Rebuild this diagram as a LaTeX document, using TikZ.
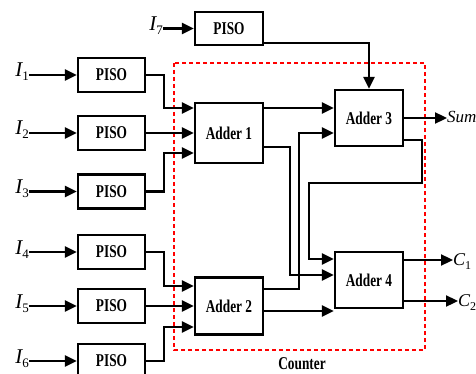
\documentclass[tikz,border=0pt]{standalone}
\usepackage{fontspec}
\usepackage{graphicx}
\setmainfont{Liberation Serif}
\usetikzlibrary{arrows.meta}
\newcommand{\bxt}[1]{\scalebox{0.74}[1]{\fontsize{18}{18}\selectfont\bfseries #1}}
\newcommand{\ilab}[1]{{\fontsize{21}{21}\selectfont\itshape I}\raisebox{-4pt}{\fontsize{13}{13}\selectfont #1}}
\newcommand{\clab}[1]{{\fontsize{18}{18}\selectfont\itshape C}\raisebox{-4pt}{\fontsize{12}{12}\selectfont #1}}
\tikzset{
  blk/.style={draw, line width=2.3pt, minimum width=67pt, minimum height=34pt, inner sep=0pt},
  arr/.style={line width=2.3pt, -{Triangle[length=12pt,width=11pt]}},
  lab/.style={inner sep=0pt, anchor=base east},
  counterbox/.style={draw=red, line width=2.2pt, dash pattern=on 4pt off 3pt}
}
\begin{document}
\begin{tikzpicture}[x=1pt,y=-1pt]
\useasboundingbox (0,0) rectangle (476,374);
\clip (0,0) rectangle (476,374);
% counter frame
\draw[counterbox] (174,63) rectangle (425,350);
\node (cnt) at (302,364) {\bxt{Counter}};
% PISO blocks
\node[blk] (p1) at (111.5,75) {\bxt{PISO}};
\node[blk] (p2) at (111.5,133) {\bxt{PISO}};
\node[blk] (p3) at (111.5,191.5) {\bxt{PISO}};
\node[blk] (p4) at (111.5,252) {\bxt{PISO}};
\node[blk] (p5) at (111.5,306) {\bxt{PISO}};
\node[blk] (p6) at (111.5,361) {\bxt{PISO}};
\node[blk, minimum width=68pt, minimum height=33pt] (p7) at (229,28.5) {\bxt{PISO}};
% adders
\node[blk, minimum width=68pt, minimum height=60pt] (a1) at (229,133) {\bxt{Adder 1}};
\node[blk, minimum width=68pt, minimum height=57pt] (a2) at (229,306) {\bxt{Adder 2}};
\node[blk, minimum width=68pt, minimum height=56pt] (a3) at (369,118) {\bxt{Adder 3}};
\node[blk, minimum width=68pt, minimum height=56pt] (a4) at (369,280) {\bxt{Adder 4}};
% input labels
\node[lab] (l1) at (29,77) {\ilab{1}};
\node[lab] (l2) at (29,135) {\ilab{2}};
\node[lab] (l3) at (29,193.5) {\ilab{3}};
\node[lab] (l4) at (29,254) {\ilab{4}};
\node[lab] (l5) at (29,308) {\ilab{5}};
\node[lab] (l6) at (29,363) {\ilab{6}};
\node[lab] (l7) at (163,30.5) {\ilab{7}};
\foreach \i in {1,...,7}{
  \draw[arr] (p\i.west -| l\i.base east) -- (p\i.west);
}
% PISO -> adders
\draw[arr] (p1.east) -- ++(18,0) |- ([yshift=25pt]a1.west);
\draw[arr] (p2.east) -- (p2.east -| a1.west);
\draw[arr] (p3.east) -- ++(18,0) |- ([yshift=-20pt]a1.west);
\draw[arr] (p4.east) -- ++(18,0) |- ([yshift=20pt]a2.west);
\draw[arr] (p5.east) -- (p5.east -| a2.west);
\draw[arr] (p6.east) -- ++(18,0) |- ([yshift=-21pt]a2.west);
\draw[arr] ([yshift=3pt]p7.south east) -| (a3.north);
% adder interconnect
\draw[arr] ([yshift=25pt]a1.east) -- ([yshift=25pt]a1.east -| a3.west);
\draw[arr] ([yshift=17pt]a2.east) -- ++(35,0) |- ([yshift=-15pt]a3.west);
\draw[arr] ([yshift=-14pt]a1.east) -- ++(26,0) |- ([yshift=5pt]a4.west);
\draw[arr] ([yshift=-22pt]a3.east) -- ++(18,0) -- ++(0,43) -- ++(-113,0) |- ([yshift=21pt]a4.west);
\draw[arr] ([yshift=-5pt]a2.east) -- ([yshift=-5pt]a2.east -| a4.west);
% outputs
\node[inner sep=0pt, anchor=base west] (sum) at (447,123) {\fontsize{17}{17}\selectfont\itshape Sum};
\node[inner sep=0pt, anchor=base west] (c1) at (453,265) {\clab{1}};
\node[inner sep=0pt, anchor=base west] (c2) at (458,306) {\clab{2}};
\coordinate (o1) at ([yshift=20pt]a4.east);
\coordinate (o2) at ([yshift=-21pt]a4.east);
\draw[arr] (a3.east) -- (a3.east -| sum.west);
\draw[arr] (o1) -- (o1 -| c1.west);
\draw[arr] (o2) -- (o2 -| c2.west);
\end{tikzpicture}
\end{document}
